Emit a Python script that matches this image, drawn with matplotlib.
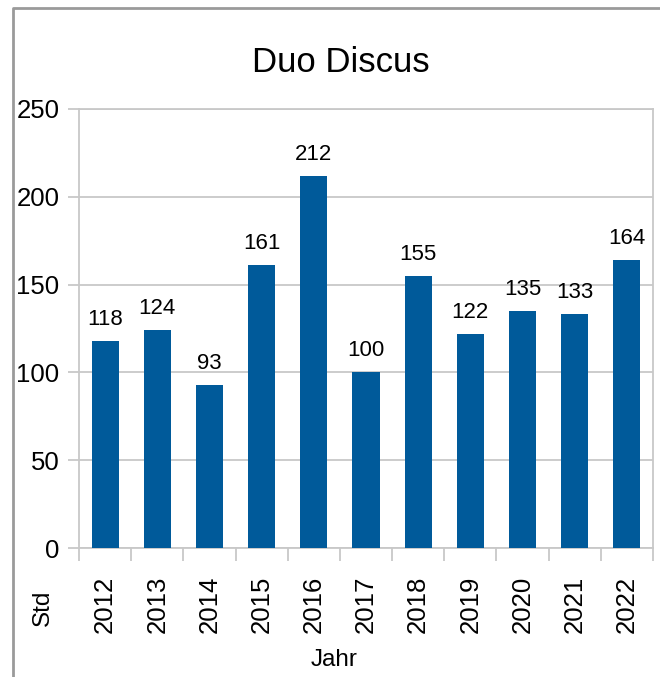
import matplotlib
matplotlib.use("Agg")
import matplotlib.pyplot as plt
from matplotlib.lines import Line2D

plt.rcParams['font.family'] = ['Liberation Sans', 'DejaVu Sans']

# data
years = ['2012', '2013', '2014', '2015', '2016', '2017', '2018', '2019', '2020', '2021', '2022']
hours = [118, 124, 93, 161, 212, 100, 155, 122, 135, 133, 164]

W, H = 660, 677
fig = plt.figure(figsize=(W / 100, H / 100), dpi=100)
ax = fig.add_axes([79 / W, 1 - 548 / H, (653 - 79) / W, (548 - 109) / H])

x = list(range(len(years)))
bars = ax.bar(x, hours, width=0.52, color='#005A9A', zorder=3)
for xi, v in zip(x, hours):
    ax.annotate(str(v), (xi, v), xytext=(0, 8), textcoords='offset points',
                ha='center', va='bottom', fontsize=16)

ax.set_xlim(-0.5, len(years) - 0.5)
ax.set_ylim(0, 250)
ax.set_yticks(range(0, 251, 50))
ax.yaxis.grid(True, color='#c8c8c8', linewidth=1.3, zorder=0)

# category boundary ticks
ax.set_xticks([i - 0.5 for i in range(len(years) + 1)], minor=False)
ax.set_xticklabels([])
ax.set_xticks(x, minor=True)
ax.set_xticklabels(years, minor=True, rotation=90, fontsize=18.5)
ax.tick_params(axis='x', which='major', length=9, color='#c8c8c8', width=1.3)
ax.tick_params(axis='x', which='minor', length=0, pad=20)
ax.tick_params(axis='y', length=8, color='#c8c8c8', width=1.3, labelsize=18.5, pad=6)

for s in ax.spines.values():
    s.set_color('#c8c8c8')
    s.set_linewidth(1.3)

fig.text(341 / W, 1 - 63 / H, 'Duo Discus', ha='center', va='center', fontsize=25)
fig.text(334 / W, 1 - 660 / H, 'Jahr', ha='center', va='center', fontsize=17.5)
fig.text(43 / W, 1 - 608 / H, 'Std', ha='center', va='center', fontsize=17.5, rotation=90)

# outer frame (left and top only visible)
fig.add_artist(Line2D([13 / W, 13 / W, 1.0], [0.0, 1 - 8 / H, 1 - 8 / H],
                      transform=fig.transFigure, color='#9a9a9a', linewidth=2))

fig.savefig('out.png', dpi=100)
